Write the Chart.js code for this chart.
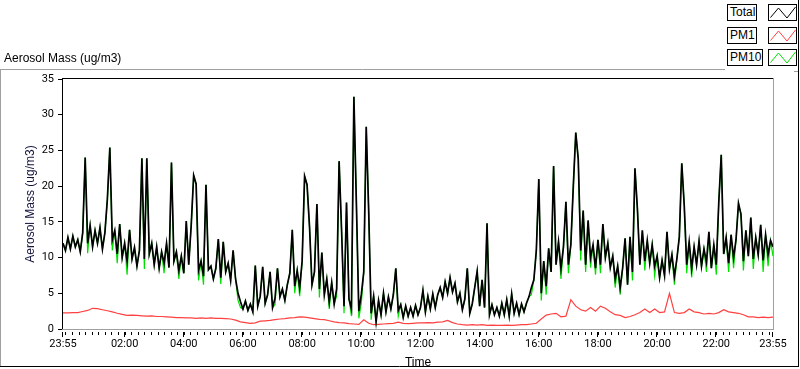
<!DOCTYPE html>
<html>
<head>
<meta charset="utf-8">
<script src="https://cdn.jsdelivr.net/npm/chart.js@4.4.1/dist/chart.umd.min.js"></script>
<style>
  html, body { margin: 0; padding: 0; background: #fff; }
  #wrap { position: relative; width: 800px; height: 369px; overflow: hidden; }
  #chart { position: absolute; left: 0; top: 0; }
  .txt { position: absolute; font: 12px "Liberation Sans", Arial, sans-serif; color: #000; white-space: nowrap; }
  .lbox { position: absolute; box-sizing: border-box; height: 17px; border: 1px solid #000; background: #fff;
          font: 12px "Liberation Sans", Arial, sans-serif; line-height: 15px; padding: 0 1px 0 2px; }
  .swatch { position: absolute; box-sizing: border-box; left: 768px; width: 29px; height: 17px; border: 1px solid #000; background: #fff; }
  .swatch svg { position: absolute; left: 0; top: 0; }
</style>
</head>
<body>
<div id="wrap">
  <canvas id="chart" width="800" height="369"></canvas>
  <div class="txt" style="left:4px; top:51px;">Aerosol Mass (ug/m3)</div>
  <div id="legend"></div>
</div>
<script>
// sample spacing (minutes since 23:55)
const STEP_MIN = 5;
const PM1_STEP_MIN = 10;

const seriesNames = ["Total", "PM1", "PM10"];
const seriesColors = ["#000000", "#ff4040", "#00e000"];

const total = [
  12.0, 11.0, 12.8, 11.2, 13.0, 11.5, 12.5, 10.8, 13.5, 24.0,
  12.0, 14.5, 11.5, 13.8, 12.0, 14.2, 11.2, 13.5, 18.2, 25.4,
  12.5, 13.8, 10.5, 14.7, 10.0, 12.0, 9.5, 13.9, 9.8, 11.4,
  8.8, 11.0, 23.9, 9.8, 23.9, 10.5, 12.0, 9.0, 11.5, 8.5,
  10.8, 9.2, 12.0, 8.6, 23.3, 9.5, 10.8, 8.2, 10.2, 7.8,
  15.1, 9.0, 14.5, 21.5, 20.3, 8.2, 9.5, 7.4, 20.2, 8.3,
  8.8, 7.0, 8.5, 12.6, 7.2, 12.2, 8.0, 9.2, 6.8, 11.0,
  7.0, 5.0, 3.8, 2.8, 3.9, 2.6, 3.5, 2.4, 8.9, 3.2,
  4.6, 8.7, 3.6, 4.8, 8.0, 3.0, 4.3, 8.5, 4.5, 5.6,
  4.0, 6.2, 7.8, 13.9, 6.0, 8.2, 5.8, 9.5, 21.4, 20.2,
  14.3, 6.2, 8.0, 17.5, 5.6, 10.7, 4.8, 7.0, 3.8, 6.5,
  3.5, 5.6, 23.5, 13.8, 3.2, 17.7, 4.2, 2.8, 32.5, 17.7,
  2.5, 4.8, 8.0, 28.3, 16.5, 2.2, 4.6, 1.0, 4.0, 2.0,
  5.0, 2.4, 4.5, 2.8, 4.8, 8.5, 2.6, 3.4, 1.6, 3.2,
  1.8, 3.0, 1.8, 3.3, 2.0, 3.0, 5.4, 2.4, 4.6, 2.8,
  4.9, 3.0, 4.8, 5.8, 4.4, 6.6, 5.0, 7.2, 5.2, 6.4,
  3.8, 5.0, 2.7, 4.2, 8.5, 2.2, 3.5, 5.8, 8.1, 3.2,
  6.9, 3.0, 14.8, 2.0, 3.4, 2.0, 3.0, 1.8, 3.6, 2.0,
  4.1, 1.8, 4.9, 2.2, 3.6, 2.0, 3.5, 2.4, 3.6, 4.5,
  5.8, 6.9, 11.0, 21.0, 5.0, 9.5, 6.0, 11.3, 8.0, 22.8,
  9.0, 12.2, 8.5, 11.5, 17.8, 9.0, 11.8, 20.0, 27.5, 23.8,
  11.0, 16.6, 9.0, 15.2, 10.0, 11.8, 8.5, 12.5, 9.0, 14.7,
  10.0, 12.0, 8.6, 10.2, 7.0, 8.8, 5.8, 8.5, 12.7, 6.2,
  12.9, 8.0, 22.5, 16.8, 9.0, 13.8, 9.5, 12.4, 9.2, 11.8,
  8.8, 10.2, 7.2, 9.6, 7.5, 13.6, 8.4, 10.4, 7.4, 9.8,
  12.9, 23.2, 17.3, 9.0, 12.2, 8.5, 11.5, 9.0, 12.3, 8.8,
  11.2, 9.4, 13.6, 8.5, 11.8, 9.0, 17.7, 24.4, 10.5, 12.8,
  9.2, 13.2, 10.0, 12.5, 17.6, 16.1, 9.5, 13.8, 10.2, 15.6,
  9.8, 12.8, 10.4, 14.6, 9.6, 13.2, 10.4, 12.4, 11.5
];

const pm10 = [
  12.0, 11.0, 12.8, 11.2, 13.0, 11.5, 12.5, 10.8, 13.5, 24.0,
  10.6, 14.5, 11.5, 13.8, 12.0, 14.2, 11.2, 13.5, 18.2, 25.4,
  11.0, 13.8, 9.2, 14.7, 10.0, 12.0, 7.6, 13.9, 9.8, 11.4,
  8.8, 11.0, 23.9, 8.4, 23.9, 10.5, 12.0, 9.0, 11.5, 8.5,
  10.8, 7.8, 12.0, 8.6, 23.3, 9.5, 10.8, 7.0, 10.2, 7.8,
  15.1, 9.0, 14.5, 21.5, 20.3, 6.8, 9.5, 6.2, 20.2, 8.3,
  8.8, 7.0, 8.5, 12.6, 6.3, 12.2, 8.0, 9.2, 6.8, 11.0,
  7.0, 4.0, 3.0, 2.8, 3.9, 2.6, 3.5, 2.4, 8.9, 3.2,
  4.6, 8.7, 3.6, 4.8, 8.0, 3.0, 3.4, 8.5, 4.5, 5.6,
  4.0, 6.2, 7.8, 13.9, 5.0, 8.2, 4.6, 9.5, 21.4, 20.2,
  14.3, 6.2, 8.0, 17.5, 4.4, 10.7, 4.8, 7.0, 2.8, 6.5,
  3.5, 4.6, 23.5, 13.8, 2.2, 17.7, 4.2, 1.8, 32.5, 17.7,
  1.5, 3.6, 8.0, 28.3, 16.5, 1.3, 4.6, 1.0, 4.0, 2.0,
  5.0, 2.4, 4.5, 2.8, 4.8, 8.5, 1.8, 3.4, 1.6, 3.2,
  1.8, 3.0, 1.8, 3.3, 2.0, 3.0, 5.4, 2.4, 4.6, 2.8,
  4.9, 3.0, 4.8, 5.8, 4.4, 6.6, 5.0, 7.2, 5.2, 6.4,
  3.8, 5.0, 2.7, 4.2, 8.5, 2.2, 3.5, 5.8, 8.1, 3.2,
  6.9, 3.0, 14.8, 2.0, 3.4, 2.0, 3.0, 1.8, 3.6, 2.0,
  4.1, 1.8, 4.9, 2.2, 3.6, 2.0, 3.5, 2.4, 3.6, 4.5,
  4.8, 6.9, 11.0, 21.0, 4.0, 9.5, 4.8, 11.3, 8.0, 22.8,
  9.0, 12.2, 7.0, 11.5, 17.8, 7.8, 11.8, 20.0, 27.5, 23.8,
  9.6, 16.6, 8.0, 15.2, 8.6, 11.8, 7.6, 12.5, 7.8, 14.7,
  10.0, 12.0, 8.6, 10.2, 5.8, 8.8, 4.8, 8.5, 12.7, 6.2,
  12.9, 6.8, 22.5, 16.8, 9.0, 13.8, 8.2, 12.4, 9.2, 11.8,
  7.4, 10.2, 7.2, 9.6, 7.5, 13.6, 8.4, 10.4, 6.2, 9.8,
  12.9, 23.2, 17.3, 7.8, 12.2, 7.2, 11.5, 9.0, 12.3, 8.8,
  11.2, 8.0, 13.6, 8.5, 11.8, 7.6, 17.7, 24.4, 10.5, 12.8,
  8.0, 13.2, 8.5, 12.5, 17.6, 16.1, 8.2, 13.8, 10.2, 15.6,
  8.4, 12.8, 10.4, 14.6, 8.0, 13.2, 8.8, 12.4, 10.2
];

const pm1 = [
  2.25, 2.25, 2.3, 2.3, 2.45, 2.6, 2.9, 2.85, 2.7, 2.55,
  2.4, 2.2, 2.05, 1.9, 1.95, 1.9, 1.85, 1.8, 1.85, 1.75,
  1.75, 1.7, 1.65, 1.6, 1.6, 1.55, 1.55, 1.5, 1.55, 1.5,
  1.55, 1.5, 1.5, 1.45, 1.4, 1.25, 1.0, 0.9, 0.8, 0.85,
  1.1, 1.15, 1.2, 1.3, 1.4, 1.45, 1.55, 1.6, 1.7, 1.65,
  1.55, 1.45, 1.35, 1.3, 1.15, 1.0, 0.9, 0.85, 0.75, 0.7,
  0.65, 1.3, 0.8, 0.6, 0.65, 0.7, 0.75, 0.8, 0.95, 0.8,
  0.75, 0.8, 0.85, 0.85, 0.9, 0.85, 0.95, 1.0, 1.2, 0.9,
  0.7, 0.6, 0.55, 0.6, 0.55, 0.6, 0.5, 0.55, 0.5, 0.5,
  0.55, 0.5, 0.55, 0.6, 0.6, 0.7, 0.8, 1.4, 1.95, 2.1,
  2.2, 1.7, 1.8, 4.1, 3.2, 2.7, 2.5, 3.0, 2.5, 3.2,
  2.9, 2.4, 2.0, 1.9, 1.6, 1.75, 2.0, 2.3, 2.8, 2.3,
  2.8, 2.3, 2.4, 5.0, 2.3, 2.2, 2.3, 2.8, 2.4, 2.3,
  2.1, 2.2, 2.1, 2.3, 2.7, 2.4, 2.3, 2.2, 2.0, 1.7,
  1.7, 1.6, 1.65, 1.6, 1.65
];

// x axis: labelled ticks (minutes since 23:55) and their text
const xLabelMinutes = [0, 125, 245, 365, 485, 605, 725, 845, 965, 1085, 1205, 1325, 1440];
const xLabels = ["23:55", "02:00", "04:00", "06:00", "08:00", "10:00", "12:00", "14:00", "16:00", "18:00", "20:00", "22:00", "23:55"];
const minorTickMinutes = Array.from({ length: 108 }, (_, k) => 5 + (k * 40) / 3);
const yTicks = [0, 5, 10, 15, 20, 25, 30, 35];

const toPoints = (arr, step) => arr.map((v, i) => ({ x: i * step, y: v }));

// legend boxes
const legendEl = document.getElementById("legend");
const legendTops = [4, 27, 49];
seriesNames.forEach((name, i) => {
  const box = document.createElement("div");
  box.className = "lbox";
  box.style.left = "727px";
  box.style.top = legendTops[i] + "px";
  box.textContent = name;
  legendEl.appendChild(box);

  const sw = document.createElement("div");
  sw.className = "swatch";
  sw.style.top = legendTops[i] + "px";
  sw.innerHTML =
    '<svg width="29" height="17"><polyline points="1.5,12.5 9.5,3 18,13 26.5,2" fill="none" stroke="' +
    seriesColors[i] + '" stroke-width="1"/></svg>';
  legendEl.appendChild(sw);
});

const framePlugin = {
  id: "frame",
  beforeDraw(chart) {
    const { ctx } = chart;
    ctx.save();
    ctx.fillStyle = "#fff";
    ctx.fillRect(0, 0, chart.width, chart.height);
    ctx.restore();
  },
  afterDraw(chart) {
    const { ctx, chartArea: a, scales } = chart;
    const x = scales.x;
    const line = (x1, y1, x2, y2, c) => {
      ctx.strokeStyle = c;
      ctx.beginPath();
      ctx.moveTo(x1, y1);
      ctx.lineTo(x2, y2);
      ctx.stroke();
    };
    ctx.save();
    ctx.lineWidth = 1;
    // outer panel
    line(0, 69.5, 725, 69.5, "#a0a0a0");
    line(0.5, 69, 0.5, 367, "#a0a0a0");
    line(0, 366.5, 799, 366.5, "#000");
    line(798.5, 0, 798.5, 367, "#000");
    line(794, 71.5, 798, 71.5, "#a0a0a0");
    // plot border
    line(a.left - 1, a.top - 0.5, a.right + 1, a.top - 0.5, "#000");
    line(a.left - 0.5, a.top - 1, a.left - 0.5, a.bottom + 1, "#000");
    line(a.left - 1, a.bottom + 0.5, a.right + 1, a.bottom + 0.5, "#a0a0a0");
    line(a.right + 0.5, a.top - 1, a.right + 0.5, a.bottom + 1, "#a0a0a0");
    // x tick marks
    const y0 = a.bottom + 3;
    minorTickMinutes.forEach((m) => {
      const px = Math.round(x.getPixelForValue(m)) + 0.5;
      line(px, y0, px, y0 + 3, "#000");
    });
    xLabelMinutes.forEach((m) => {
      const px = Math.round(x.getPixelForValue(m)) - 0.5;
      line(px, y0, px, y0 + 5, "#000");
    });
    ctx.restore();
  },
};

new Chart(document.getElementById("chart"), {
  type: "line",
  data: {
    datasets: [
      { label: seriesNames[0], data: toPoints(total, STEP_MIN), borderColor: seriesColors[0], borderWidth: 1.7 },
      { label: seriesNames[1], data: toPoints(pm1, PM1_STEP_MIN), borderColor: seriesColors[1], borderWidth: 1.2 },
      { label: seriesNames[2], data: toPoints(pm10, STEP_MIN), borderColor: seriesColors[2], borderWidth: 1.2 },
    ],
  },
  options: {
    responsive: false,
    animation: false,
    devicePixelRatio: 1,
    layout: { padding: { left: 0, top: 79, right: 27, bottom: 0 } },
    elements: {
      point: { radius: 0 },
      line: { tension: 0, borderJoinStyle: "miter" },
    },
    scales: {
      x: {
        type: "linear",
        min: 0,
        max: 1440,
        afterFit: (s) => { s.height = 40; },
        afterBuildTicks: (s) => { s.ticks = xLabelMinutes.map((v) => ({ value: v })); },
        grid: { display: false, drawTicks: false },
        border: { display: false },
        ticks: {
          autoSkip: false,
          maxRotation: 0,
          padding: 9,
          color: "#000",
          font: { family: "Roboto", size: 11 },
          callback: (v, i) => xLabels[i],
        },
        title: {
          display: true,
          text: "Time",
          color: "#000",
          font: { family: "Liberation Sans", size: 12 },
          padding: { top: 0, bottom: -1 },
        },
      },
      y: {
        min: 0,
        max: 35,
        afterFit: (s) => { s.width = 63; },
        afterBuildTicks: (s) => { s.ticks = yTicks.map((v) => ({ value: v })); },
        grid: { display: true, drawOnChartArea: false, drawTicks: true, tickLength: 5, color: "#000" },
        border: { display: false },
        ticks: {
          padding: 4,
          color: "#000",
          font: { family: "Roboto", size: 11 },
        },
        title: {
          display: true,
          text: "Aerosol Mass (ug/m3)",
          color: "#14143c",
          font: { family: "Liberation Sans", size: 12 },
          padding: { top: 23, bottom: 0 },
        },
      },
    },
    plugins: {
      legend: { display: false },
      tooltip: { enabled: false },
    },
  },
  plugins: [framePlugin],
});
</script>
</body>
</html>
